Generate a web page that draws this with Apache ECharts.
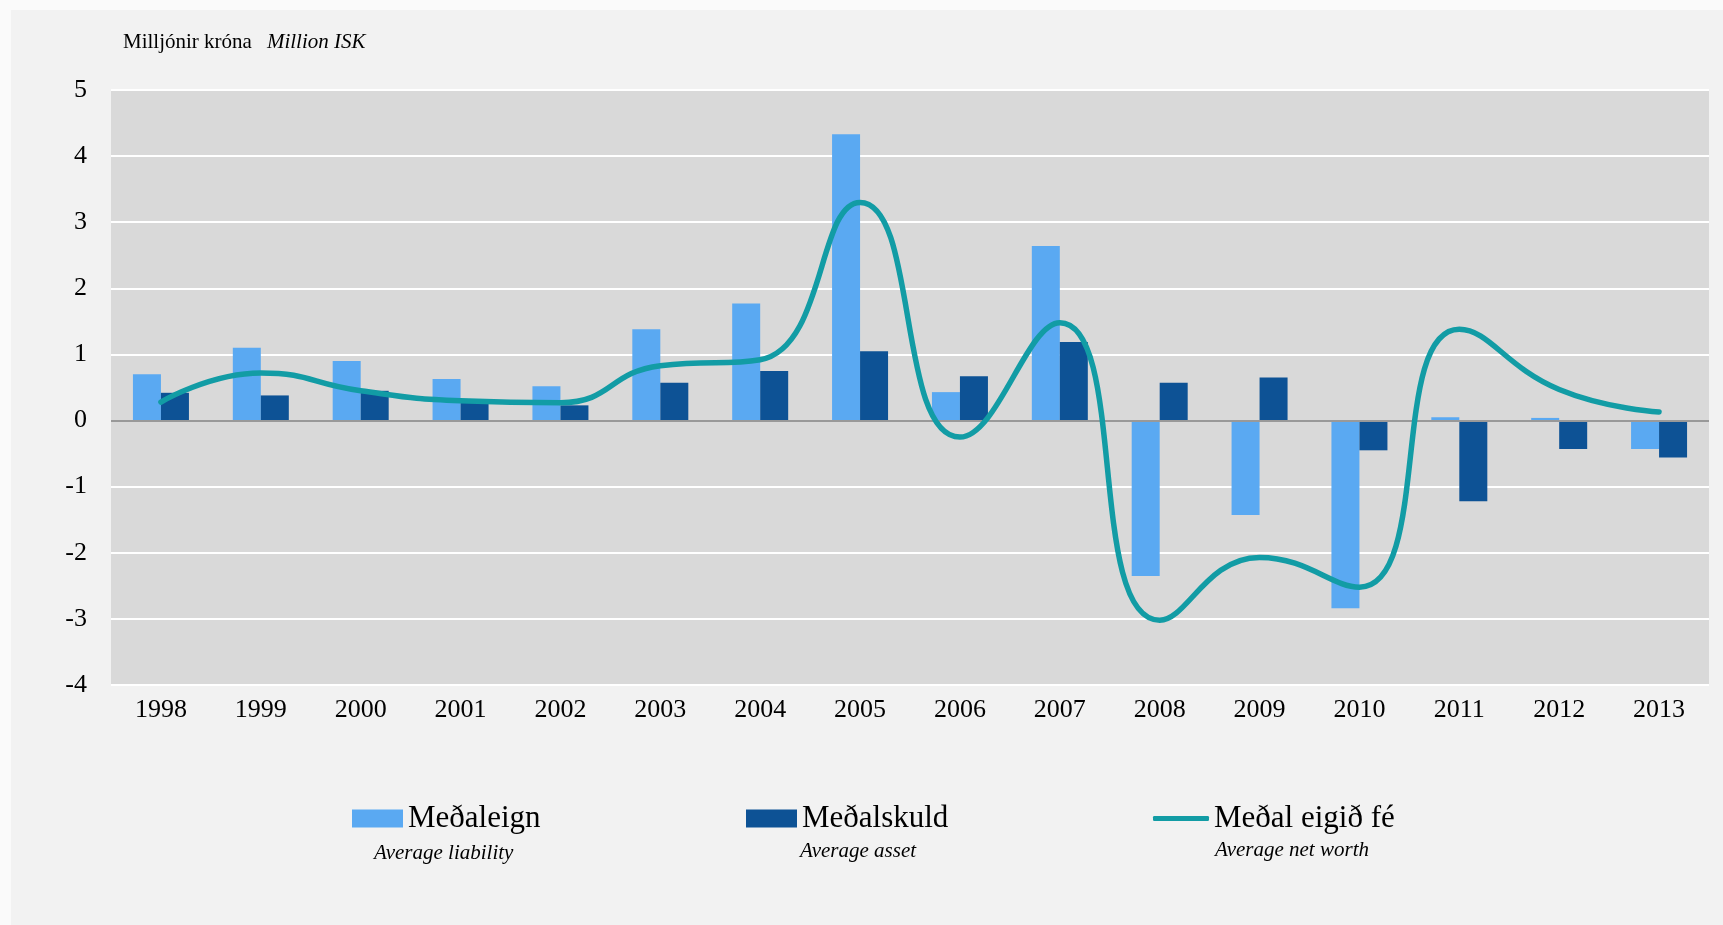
<!DOCTYPE html>
<html>
<head>
<meta charset="utf-8">
<script src="https://cdn.jsdelivr.net/npm/echarts@6/dist/echarts.min.js"></script>
<style>
  html, body { margin: 0; padding: 0; background: #fafafa; }
  .panel { position: absolute; left: 11px; top: 10px; right: 0; bottom: 0; background: #f2f2f2; }
  .charts { position: absolute; left: 0; top: 0; width: 1723px; height: 925px; }
</style>
</head>
<body>
<div class="panel"></div>
<div class="charts" id="chart"></div>
<script>
const years = ["1998", "1999", "2000", "2001", "2002", "2003", "2004", "2005",
  "2006", "2007", "2008", "2009", "2010", "2011", "2012", "2013"];
// Meðaleign (light bars)
const medaleign = [0.70, 1.10, 0.90, 0.63, 0.52, 1.38, 1.77, 4.33,
  0.43, 2.64, -2.35, -1.43, -2.84, 0.05, 0.04, -0.43];
// Meðalskuld (dark bars)
const medalskuld = [0.42, 0.38, 0.45, 0.32, 0.23, 0.57, 0.75, 1.05,
  0.67, 1.19, 0.57, 0.65, -0.45, -1.22, -0.43, -0.56];
// Meðal eigið fé (line)
const eigidFe = [0.28, 0.72, 0.45, 0.30, 0.27, 0.83, 0.92, 3.30,
  -0.25, 1.48, -3.02, -2.07, -2.52, 1.38, 0.47, 0.13];
const yTicks = [-4, -3, -2, -1, 0, 1, 2, 3, 4, 5];

const serif = "'Liberation Serif', 'DejaVu Serif', serif";
const myChart = echarts.init(document.getElementById("chart"));

const legendText = { fontFamily: serif, fontSize: 31, color: "#000" };

const option = {
  backgroundColor: "transparent",
  animation: false,
  title: {
    left: 118,
    top: 27,
    text: "{a|Milljónir króna}   {b|Million ISK}",
    textStyle: {
      fontWeight: "normal",
      rich: {
        a: { fontFamily: serif, fontSize: 21, fontWeight: "normal", color: "#000" },
        b: { fontFamily: serif, fontSize: 21, fontWeight: "normal", fontStyle: "italic", color: "#000" },
      },
    },
  },
  grid: {
    left: 111,
    right: 14,
    top: 90,
    bottom: 240,
    show: true,
    backgroundColor: "#d9d9d9",
    borderWidth: 0,
  },
  legend: [
    {
      left: 347, top: 798,
      itemWidth: 51, itemHeight: 18, itemGap: 5,
      textStyle: legendText,
      data: [{ name: "Meðaleign", icon: "rect" }],
    },
    {
      left: 741, top: 798,
      itemWidth: 51, itemHeight: 18, itemGap: 5,
      textStyle: legendText,
      data: [{ name: "Meðalskuld", icon: "rect" }],
    },
    {
      left: 1148, top: 798,
      itemWidth: 56, itemHeight: 5,
      textStyle: legendText,
      data: [{ name: "Meðal eigið fé", icon: "roundRect" }],
    },
  ],
  graphic: [
    { type: "text", left: 374, top: 843, style: { text: "Average liability", font: "italic 21px " + serif, fill: "#000" } },
    { type: "text", left: 800, top: 841, style: { text: "Average asset", font: "italic 21px " + serif, fill: "#000" } },
    { type: "text", left: 1215, top: 840, style: { text: "Average net worth", font: "italic 21px " + serif, fill: "#000" } },
  ],
  xAxis: {
    type: "category",
    data: years,
    axisLine: { show: false, onZero: false },
    axisTick: { show: false },
    axisLabel: { fontFamily: serif, fontSize: 26, color: "#000", margin: 12 },
  },
  yAxis: {
    type: "value",
    min: yTicks[0],
    max: yTicks[yTicks.length - 1],
    interval: 1,
    axisLine: { show: false },
    axisTick: { show: false },
    axisLabel: { fontFamily: serif, fontSize: 26, color: "#000", margin: 24 },
    splitLine: { show: true, lineStyle: { color: "#ffffff", width: 2 } },
  },
  series: [
    {
      name: "Meðaleign",
      type: "bar",
      barWidth: 28,
      barGap: "0%",
      itemStyle: { color: "#5aa9f2" },
      data: medaleign,
      markLine: {
        silent: true,
        symbol: "none",
        label: { show: false },
        lineStyle: { color: "#999999", width: 2, type: "solid" },
        data: [{ yAxis: 0 }],
        z: 3,
      },
    },
    {
      name: "Meðalskuld",
      type: "bar",
      barWidth: 28,
      barGap: "0%",
      itemStyle: { color: "#0d5295" },
      data: medalskuld,
    },
    {
      name: "Meðal eigið fé",
      type: "line",
      smooth: 0.5,
      symbol: "none",
      z: 5,
      lineStyle: { color: "#129ca5", width: 5.5, cap: "round" },
      itemStyle: { color: "#129ca5" },
      data: eigidFe,
    },
  ],
};
myChart.setOption(option);
</script>
</body>
</html>
